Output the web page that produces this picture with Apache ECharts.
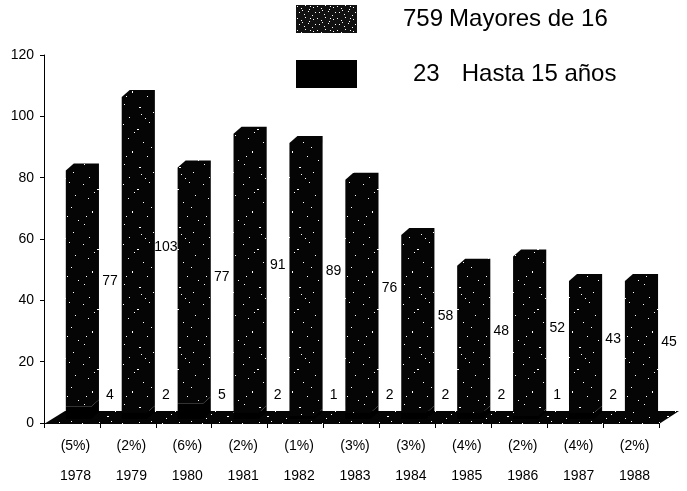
<!DOCTYPE html>
<html><head><meta charset="utf-8">
<script src="https://cdn.jsdelivr.net/npm/echarts@6/dist/echarts.min.js"></script>
<style>html,body{margin:0;padding:0;background:#fff}#c{width:687px;height:491px}</style>
</head><body><div id="c"></div>
<script>
const years = ['1978','1979','1980','1981','1982','1983','1984','1985','1986','1987','1988'];
const mayores = [77,103,77,91,89,76,58,48,52,43,45];
const hasta = [4,2,5,2,1,2,2,2,1,2,0];
const pctLabels = ['(5%)','(2%)','(6%)','(2%)','(1%)','(3%)','(3%)','(4%)','(2%)','(4%)','(2%)'];
const seriesNames = ['Mayores de 16','Hasta 15 años'];
const yMin = 0, yMax = 120, yStep = 20;

const FONT = '"Liberation Sans", Arial, Helvetica, sans-serif';

function speckle(w, h, bg, dots) {
  const cv = document.createElement('canvas'); cv.width = w; cv.height = h;
  const ctx = cv.getContext('2d');
  ctx.fillStyle = bg; ctx.fillRect(0, 0, w, h);
  ctx.fillStyle = '#ffffff';
  dots.forEach(d => ctx.fillRect(d[0], d[1], d[2] || 1, d[3] || 1));
  return { image: cv, repeat: 'repeat' };
}
const barDots = [[3,4],[17,9,2,1],[29,2],[8,18],[23,22],[35,15],[12,31,1,2],[27,36],[4,44],[19,47,2,1],[33,52],[9,57],[25,58],[38,40],[14,12],[31,27],[6,36],[21,54]];
const barFill = speckle(40, 60, '#050505', barDots);
const floorFill = speckle(40, 14, '#050505', [[2,3],[11,8],[19,2],[27,10,2,1],[35,5],[6,12],[15,5],[31,1]]);
const legendFill = speckle(20, 12, '#111111', [[1,1],[5,3],[9,0],[13,4],[17,2],[3,7],[8,9],[12,6],[16,10],[19,7],[6,5],[14,1]]);

const DX = 8, DY = 7, FACE_UP = 4;
const LABEL_FONT = '14px ' + FONT;
function barX(api, i) {
  const band = api.size([1, 0])[0];
  const cx = api.coord([i, 0])[0];
  const x0 = cx - band * 0.11;
  return { cx, band, x0, x1: x0 + band * 0.45 };
}
function label(text, x, y) {
  return { type: 'text', style: { text: text, x: x, y: y, fill: '#000', font: LABEL_FONT,
    align: 'center', verticalAlign: 'middle', textAlign: 'center', textVerticalAlign: 'middle' } };
}

function renderHasta(params, api) {
  const i = api.value(0), h = api.value(1);
  if (!h) return null;
  const g = barX(api, i);
  const yb = api.coord([i, 0])[1] - FACE_UP;
  const yt = api.coord([i, h])[1] - FACE_UP;
  return { type: 'group', children: [
    { type: 'polygon', shape: { points: [[g.x0, yb], [g.x0, yt], [g.x1, yt], [g.x1 + DX, yt - DY], [g.x1 + DX, yb - DY], [g.x1, yb]] },
      style: { fill: '#000' } },
    label(String(h), g.cx + g.band * 0.68, api.coord([i, 0])[1] - 28)
  ]};
}

function renderMayores(params, api) {
  const i = api.value(0), m = api.value(1), base = api.value(2);
  const g = barX(api, i);
  const yb = api.coord([i, base])[1] - FACE_UP;
  const yt = api.coord([i, base + m])[1] - FACE_UP;
  return { type: 'group', children: [
    { type: 'polygon', shape: { points: [[g.x0, yb], [g.x0, yt], [g.x0 + DX, yt - DY], [g.x1 + DX, yt - DY], [g.x1 + DX, yb - DY], [g.x1, yb]] },
      style: { fill: barFill } },
    label(String(m), g.cx + g.band * 0.68, api.coord([i, base + m / 2])[1] - 12)
  ]};
}

function renderFloor(params, api) {
  const cs = params.coordSys;
  const yB = cs.y + cs.height + 1, yT = cs.y + cs.height - 12;
  return { type: 'polygon', shape: { points: [[cs.x, yB], [cs.x + cs.width, yB], [cs.x + cs.width + 20, yT], [cs.x + 21, yT]] },
    style: { fill: floorFill } };
}

const totals = [mayores.reduce((a, b) => a + b, 0), hasta.reduce((a, b) => a + b, 0)];

const chart = echarts.init(document.getElementById('c'), null, { renderer: 'canvas' });
const LS = 24;
chart.setOption({
  animation: false,
  backgroundColor: '#fff',
  grid: { left: 44, right: 28, top: 55, bottom: 60 },
  legend: {
    orient: 'vertical', left: 296, top: 5, icon: 'rect',
    itemWidth: 61, itemHeight: 28, itemGap: 27, padding: 0,
    data: [
      { name: seriesNames[0], itemStyle: { color: legendFill } },
      { name: seriesNames[1], itemStyle: { color: '#000' } }
    ],
    formatter: function (name) {
      const k = seriesNames.indexOf(name);
      return '{n' + k + '|' + totals[k] + '}{t' + k + '|' + name + '}';
    },
    textStyle: {
      fontFamily: FONT, fontSize: LS, color: '#000',
      rich: {
        n0: { fontFamily: FONT, fontSize: LS, color: '#000', padding: [0, 0, 0, 41] },
        n1: { fontFamily: FONT, fontSize: LS, color: '#000', padding: [0, 0, 0, 51] },
        t0: { fontFamily: FONT, fontSize: LS, color: '#000', padding: [0, 0, 0, 6] },
        t1: { fontFamily: FONT, fontSize: LS, color: '#000', padding: [0, 0, 0, 22] }
      }
    }
  },
  xAxis: {
    type: 'category', data: years,
    axisLine: { lineStyle: { color: '#000', width: 1 } },
    axisTick: { show: true, length: 5, lineStyle: { color: '#000' } },
    axisLabel: {
      color: '#000', fontFamily: FONT, fontSize: 14, lineHeight: 30, margin: 8,
      padding: [0, 0, 0, 7],
      formatter: (v, i) => pctLabels[i] + '\n' + v
    },
    splitLine: { show: false }
  },
  yAxis: {
    type: 'value', min: yMin, max: yMax, interval: yStep,
    axisLine: { show: true, lineStyle: { color: '#000', width: 1 } },
    axisTick: { show: true, length: 4, lineStyle: { color: '#000' } },
    axisLabel: { color: '#000', fontFamily: FONT, fontSize: 14, margin: 10 },
    splitLine: { show: false }
  },
  series: [
    { name: 'floor', type: 'custom', renderItem: renderFloor, data: [[0, 0]], encode: { x: 0, y: 1 }, z: 1, silent: true },
    { name: seriesNames[1], type: 'custom', renderItem: renderHasta, itemStyle: { color: '#000' },
      data: hasta.map((v, i) => [i, v]), encode: { x: 0, y: 1 }, z: 2 },
    { name: seriesNames[0], type: 'custom', renderItem: renderMayores, itemStyle: { color: '#050505' },
      data: mayores.map((v, i) => [i, v, hasta[i]]), encode: { x: 0, y: [1, 2] }, z: 3 }
  ]
});
</script></body></html>
